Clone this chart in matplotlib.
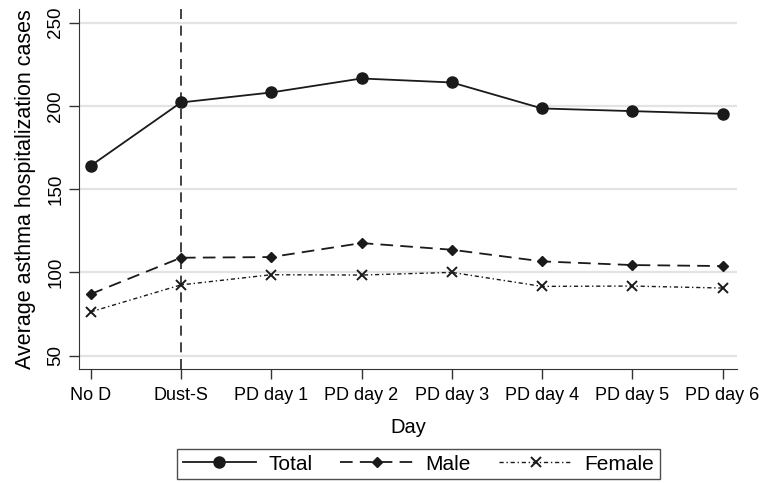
import matplotlib
matplotlib.use("Agg")
import matplotlib.pyplot as plt

days = ["No D", "Dust-S", "PD day 1", "PD day 2", "PD day 3", "PD day 4", "PD day 5", "PD day 6"]
total = [164, 202, 208, 216.4, 214, 198.4, 196.8, 195.2]
male = [87, 108.8, 109.2, 117.6, 113.6, 106.6, 104.4, 103.8]
female = [76.3, 92.5, 98.6, 98.4, 100, 91.6, 91.8, 90.6]
yticks = [50, 100, 150, 200, 250]

plt.rcParams['font.family'] = ['Liberation Sans', 'DejaVu Sans']

fig = plt.figure(figsize=(7.63, 4.83), dpi=100)
ax = fig.add_axes([0.1035, 0.236, 0.8625, 0.745])
x = list(range(len(days)))

for yt in yticks:
    ax.axhline(yt, color='#e3e3e3', lw=1.6, zorder=0)

ax.axvline(1, color='#222222', lw=1.2, ls=(0, (6, 4)), zorder=1)

l1, = ax.plot(x, total, color='#1a1a1a', lw=1.3, marker='o', ms=8, label='Total')
l2, = ax.plot(x, male, color='#1a1a1a', lw=1.3, ls=(0, (7, 4)), marker='D', ms=5.5, label='Male')
l3, = ax.plot(x, female, color='#1a1a1a', lw=1.0, ls=(0, (3, 2, 1, 2)), marker='x', ms=7,
              mew=1.4, label='Female')

ax.set_xlim(-0.13, 7.16)
ax.set_ylim(42, 258)
ax.set_xticks(x)
ax.set_xticklabels(days, fontsize=13)
ax.set_yticks(yticks)
ax.set_yticklabels([str(v) for v in yticks], fontsize=13.5, rotation=90, va='center')
ax.tick_params(axis='both', direction='out', length=7, width=1, color='#333333')
ax.tick_params(axis='x', pad=6)
ax.tick_params(axis='y', pad=3.5)
for s in ['top', 'right']:
    ax.spines[s].set_visible(False)
for s in ['left', 'bottom']:
    ax.spines[s].set_color('#333333')
ax.set_xlabel('Day', fontsize=14.5, labelpad=10)
ax.set_ylabel('Average asthma hospitalization cases', fontsize=15.5, labelpad=8)

leg = fig.legend(handles=[l1, l2, l3], loc='center', bbox_to_anchor=(0.5485, 0.039), ncol=3,
                 fontsize=15, frameon=True, fancybox=False, edgecolor='#222222',
                 handlelength=3.5, handletextpad=0.6, columnspacing=1.35, borderpad=0.25,
                 borderaxespad=0)
leg.get_frame().set_linewidth(1.0)

fig.savefig('out.png', dpi=100)
